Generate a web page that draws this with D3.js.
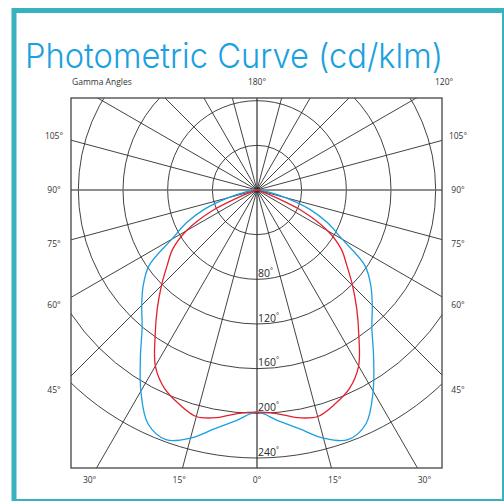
<!DOCTYPE html>
<html>
<head>
<meta charset="utf-8">
<script src="https://cdn.jsdelivr.net/npm/d3@7"></script>
<style>
html,body{margin:0;padding:0;background:#fff;}
svg{display:block;}
</style>
</head>
<body>
<svg id="chart" width="504" height="501"></svg>
<script>
// ---- data ----
const gammaAngles = [0,5,10,15,20,25,30,35,40,45,50,55,60,65,70,75,80,85,90];
const redPlane  = [199,201,207,210,204,196,182,159,139,121,105,92,73,45,10,2,0,0,0];   // C0-C180 (cd/klm)
const bluePlane = [199,207,217,230,238,231,208,182,160,146,133,118,88,70,50,27,10,3,0]; // C90-C270 (cd/klm)
const ringValues = [40,80,120,160,200,240];
const ringLabels = [80,120,160,200,240];
const spokeAngles = d3.range(0,360,15);
const sideLabels = [105,90,75,60,45];
const bottomLabels = [-30,-15,0,15,30];
const topLabels = [180,120];
const titleText = "Photometric Curve (cd/klm)";
const axisTitle = "Gamma Angles";

// ---- layout ----
const svg = d3.select("#chart");
const cx = 257, cy = 190;
const box = {x0:71, y0:98, x1:442, y1:468};
const r = d3.scaleLinear().domain([0,240]).range([0,268]);
const rad = d => d*Math.PI/180;
const gridCol = "#2e2e2e";

// frame
svg.append("rect").attr("x",14).attr("y",10.5).attr("width",490.5).attr("height",491)
  .attr("fill","none").attr("stroke","#38b2be").attr("stroke-width",5);

// title
svg.append("text").attr("x",25).attr("y",68)
  .attr("font-family","Inter, 'Open Sans', sans-serif").attr("font-weight",300)
  .attr("font-size",34).attr("fill","#1ba0e0")
  .attr("textLength",418).attr("lengthAdjust","spacingAndGlyphs")
  .text(titleText);

const defs = svg.append("defs");
defs.append("clipPath").attr("id","boxclip").append("rect")
  .attr("x",box.x0).attr("y",box.y0).attr("width",box.x1-box.x0).attr("height",box.y1-box.y0);

const g = svg.append("g").attr("clip-path","url(#boxclip)");
const center = g.append("g").attr("transform",`translate(${cx},${cy})`);

// rings
center.selectAll("circle.ring").data(ringValues).join("circle")
  .attr("class","ring").attr("r",d=>r(d)).attr("fill","none")
  .attr("stroke",gridCol).attr("stroke-width",0.9);

// spokes (angle measured from downward vertical)
center.selectAll("line.spoke").data(spokeAngles).join("line")
  .attr("class","spoke")
  .attr("x1",0).attr("y1",0)
  .attr("x2",d=>600*Math.sin(rad(d)))
  .attr("y2",d=>600*Math.cos(rad(d)))
  .attr("stroke",d=> (d%180===90) ? "#6a6a6a" : gridCol)
  .attr("stroke-width",d=> (d%180===90) ? 1.5 : (d%180===0 ? 1.2 : 0.9));

// curves
function polarPoints(vals){
  const left = gammaAngles.map((gm,i)=>({a:Math.PI+rad(gm), v:vals[i]})).reverse();
  const right = gammaAngles.slice(1).map((gm,i)=>({a:Math.PI-rad(gm), v:vals[i+1]}));
  return left.concat(right);
}
const radial = d3.lineRadial().angle(d=>d.a).radius(d=>r(d.v)).curve(d3.curveCatmullRom.alpha(0.5));
center.append("path").datum(polarPoints(bluePlane)).attr("d",radial)
  .attr("fill","none").attr("stroke","#1a9fe0").attr("stroke-width",1.3);
center.append("path").datum(polarPoints(redPlane)).attr("d",radial)
  .attr("fill","none").attr("stroke","#e5202e").attr("stroke-width",1.3);

// box
svg.append("rect").attr("x",box.x0).attr("y",box.y0)
  .attr("width",box.x1-box.x0).attr("height",box.y1-box.y0)
  .attr("fill","none").attr("stroke","#444").attr("stroke-width",1.3);

// ring labels
const rl = svg.selectAll("text.ringlab").data(ringLabels).join("text")
  .attr("class","ringlab").attr("x",cx+1).attr("y",d=>cy+r(d)-2.5)
  .attr("font-family","'Open Sans', 'Noto Sans', sans-serif").attr("font-size",10.5).attr("fill","#2a2a2a");
rl.append("tspan").text(d=>d);
rl.append("tspan").attr("font-size",7).attr("dy",-4).text("°");

const labFont = "'Open Sans', 'Noto Sans', sans-serif";
// side labels
[-1,1].forEach(side=>{
  svg.selectAll(null).data(sideLabels).join("text")
    .attr("x", cx + side*201 + (side<0?-2:0))
    .attr("y", d=> cy + 200*Math.cos(rad(d))/Math.sin(rad(d)))
    .attr("dy","0.35em").attr("text-anchor","middle")
    .attr("font-family",labFont).attr("font-size",8.5).attr("fill","#333")
    .text(d=>d+"°");
});
// bottom labels
svg.selectAll(null).data(bottomLabels).join("text")
  .attr("x", d=> cx + 290*Math.tan(rad(d)))
  .attr("y", cy+290).attr("dy","0.35em").attr("text-anchor","middle")
  .attr("font-family",labFont).attr("font-size",8.5).attr("fill","#333")
  .text(d=>Math.abs(d)+"°");
// top labels
svg.selectAll(null).data(topLabels).join("text")
  .attr("x", d=> cx + (-108/Math.cos(rad(d)))*Math.sin(rad(d)))
  .attr("y", cy-108).attr("dy","0.35em").attr("text-anchor","middle")
  .attr("font-family",labFont).attr("font-size",8.5).attr("fill","#333")
  .text(d=>d+"°");
svg.append("text").attr("x",72).attr("y",85)
  .attr("font-family",labFont).attr("font-size",8.5).attr("fill","#333")
  .text(axisTitle);
</script>
</body>
</html>
